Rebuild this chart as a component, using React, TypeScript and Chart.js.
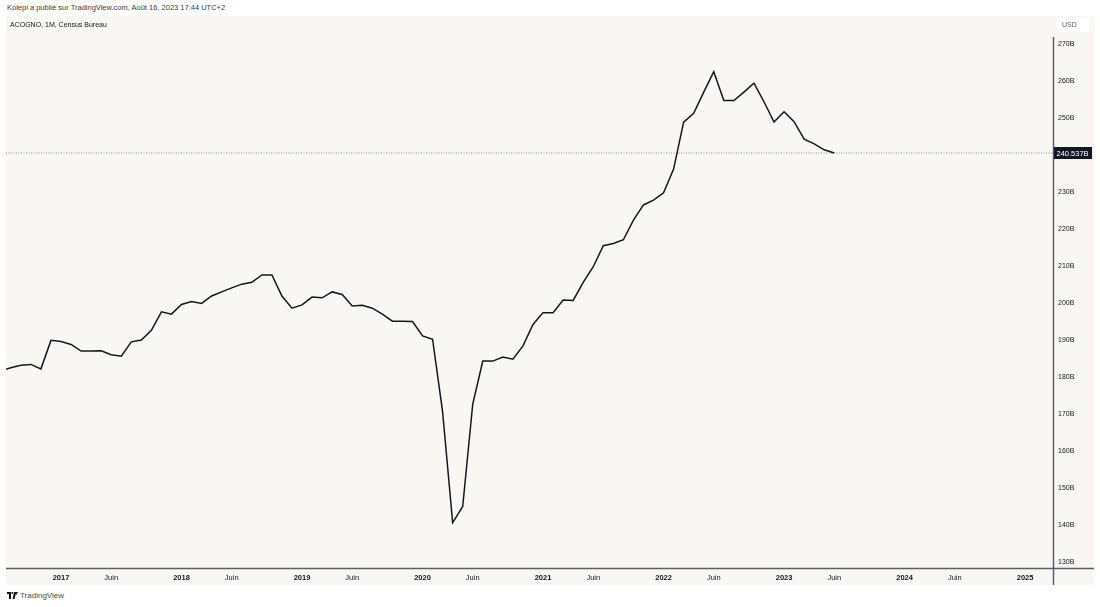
import React, { useEffect, useRef } from 'react';
import { Chart, registerables } from 'chart.js';

Chart.register(...registerables);

// ---- data ----
const months = [
  '2016-07', '2016-08', '2016-09', '2016-10', '2016-11', '2016-12',
  '2017-01', '2017-02', '2017-03', '2017-04', '2017-05', '2017-06',
  '2017-07', '2017-08', '2017-09', '2017-10', '2017-11', '2017-12',
  '2018-01', '2018-02', '2018-03', '2018-04', '2018-05', '2018-06',
  '2018-07', '2018-08', '2018-09', '2018-10', '2018-11', '2018-12',
  '2019-01', '2019-02', '2019-03', '2019-04', '2019-05', '2019-06',
  '2019-07', '2019-08', '2019-09', '2019-10', '2019-11', '2019-12',
  '2020-01', '2020-02', '2020-03', '2020-04', '2020-05', '2020-06',
  '2020-07', '2020-08', '2020-09', '2020-10', '2020-11', '2020-12',
  '2021-01', '2021-02', '2021-03', '2021-04', '2021-05', '2021-06',
  '2021-07', '2021-08', '2021-09', '2021-10', '2021-11', '2021-12',
  '2022-01', '2022-02', '2022-03', '2022-04', '2022-05', '2022-06',
  '2022-07', '2022-08', '2022-09', '2022-10', '2022-11', '2022-12',
  '2023-01', '2023-02', '2023-03', '2023-04', '2023-05', '2023-06',
];

const values = [
  181.7, 182.5, 183.2, 183.4, 182.2, 189.9,
  189.6, 188.8, 187.0, 187.0, 187.1, 186.0,
  185.6, 189.5, 190.0, 192.6, 197.6, 197.0,
  199.6, 200.4, 199.9, 201.9, 203.0, 204.1,
  205.1, 205.6, 207.6, 207.6, 201.9, 198.6,
  199.5, 201.6, 201.4, 203.0, 202.3, 199.2,
  199.4, 198.6, 197.0, 195.1, 195.1, 195.0,
  191.1, 190.2, 170.6, 140.6, 145.0, 172.7,
  184.3, 184.3, 185.4, 184.8, 188.4, 194.2,
  197.4, 197.4, 200.8, 200.7, 205.6, 209.8,
  215.5, 216.1, 217.1, 222.4, 226.5, 227.8,
  229.8, 236.2, 248.9, 251.3, 257.0, 262.5,
  254.7, 254.7, 257.0, 259.4, 254.4, 248.9,
  251.7, 249.0, 244.3, 243.0, 241.4, 240.537,
];

const yTickValues = [130, 140, 150, 160, 170, 180, 190, 200, 210, 220, 230, 240, 250, 260, 270];

const xTickDates = [
  '2017-01', '2017-06', '2018-01', '2018-06', '2019-01', '2019-06',
  '2020-01', '2020-06', '2021-01', '2021-06', '2022-01', '2022-06',
  '2023-01', '2023-06', '2024-01', '2024-06', '2025-01',
];
const xTickLabels = [
  '2017', 'Juin', '2018', 'Juin', '2019', 'Juin',
  '2020', 'Juin', '2021', 'Juin', '2022', 'Juin',
  '2023', 'Juin', '2024', 'Juin', '2025',
];

const seriesTitle = 'ACOGNO, 1M, Census Bureau';
const currencyLabel = 'USD';
const headerText = 'Kolepi a publié sur TradingView.com, Août 16, 2023 17:44 UTC+2';
const footerText = 'TradingView';

// ---- helpers / view settings ----
const monthIndex = (s: string) => {
  const [y, m] = s.split('-').map(Number);
  return (y - 2017) * 12 + (m - 1);
};

const FONT = '"Liberation Sans", Arial, sans-serif';
const X_MIN = -5.477;
const X_MAX = 98.78;
const Y_MIN = 128.38;
const Y_MAX = 277.57;
const BG = '#f8f7f3';
const AXIS_COLOR = '#5d606b';

const zeroPadding = (s: any) => {
  s.paddingTop = 0;
  s.paddingBottom = 0;
  s.paddingLeft = 0;
  s.paddingRight = 0;
};

export default function App() {
  const canvasRef = useRef<HTMLCanvasElement | null>(null);

  useEffect(() => {
    const canvas = canvasRef.current;
    if (!canvas) return;
    const points = months.map((m, i) => ({ x: monthIndex(m), y: values[i] }));
    const last = values[values.length - 1];

    const decor = {
      id: 'decor',
      beforeDraw(chart: any) {
        const { ctx, width, height } = chart;
        ctx.save();
        ctx.fillStyle = BG;
        ctx.fillRect(0, 0, width, height);
        ctx.restore();
      },
      afterDraw(chart: any) {
        const { ctx, chartArea, width, height } = chart;
        const yScale = chart.scales.y;
        ctx.save();
        // axis lines
        ctx.strokeStyle = AXIS_COLOR;
        ctx.lineWidth = 1.5;
        ctx.beginPath();
        ctx.moveTo(0, chartArea.bottom + 0.5);
        ctx.lineTo(width, chartArea.bottom + 0.5);
        ctx.moveTo(chartArea.right + 0.5, 21);
        ctx.lineTo(chartArea.right + 0.5, height);
        ctx.stroke();

        // title
        ctx.fillStyle = '#131722';
        ctx.font = `7px ${FONT}`;
        ctx.textBaseline = 'middle';
        ctx.textAlign = 'left';
        ctx.fillText(seriesTitle, 4, 9.5);

        // USD box
        ctx.fillStyle = '#ffffff';
        const bx = chartArea.right + 4, by = 2, bw = 33, bh = 14, r = 2;
        ctx.beginPath();
        ctx.moveTo(bx + r, by);
        ctx.lineTo(bx + bw - r, by);
        ctx.quadraticCurveTo(bx + bw, by, bx + bw, by + r);
        ctx.lineTo(bx + bw, by + bh - r);
        ctx.quadraticCurveTo(bx + bw, by + bh, bx + bw - r, by + bh);
        ctx.lineTo(bx + r, by + bh);
        ctx.quadraticCurveTo(bx, by + bh, bx, by + bh - r);
        ctx.lineTo(bx, by + r);
        ctx.quadraticCurveTo(bx, by, bx + r, by);
        ctx.fill();
        ctx.fillStyle = '#5d606b';
        ctx.font = `7px ${FONT}`;
        ctx.fillText(currencyLabel, bx + 5, by + bh / 2 + 0.5);

        // last value label
        const py = yScale.getPixelForValue(last);
        ctx.fillStyle = '#131722';
        ctx.fillRect(chartArea.right + 1, py - 6, 38, 12);
        ctx.fillStyle = '#ffffff';
        ctx.font = `7.5px ${FONT}`;
        ctx.fillText(`${last.toFixed(3)}B`, chartArea.right + 3.5, py + 0.5);
        ctx.restore();
      },
    };

    const chart = new Chart(canvas, {
      type: 'line',
      data: {
        datasets: [
          {
            data: points,
            borderColor: '#131722',
            borderWidth: 1.5,
            pointRadius: 0,
            tension: 0,
          },
          {
            data: [{ x: X_MIN, y: last }, { x: X_MAX, y: last }],
            borderColor: '#8a8a8a',
            borderWidth: 1,
            borderDash: [1, 1.5],
            pointRadius: 0,
          },
        ],
      },
      options: {
        animation: false,
        responsive: false,
        devicePixelRatio: 1,
        layout: { padding: 0 },
        plugins: { legend: { display: false }, tooltip: { enabled: false } },
        scales: {
          x: {
            type: 'linear',
            position: 'bottom',
            min: X_MIN,
            max: X_MAX,
            grid: { display: false, drawTicks: false },
            border: { display: false },
            afterBuildTicks: (s: any) => {
              s.ticks = xTickDates.map((d) => ({ value: monthIndex(d) }));
            },
            afterFit: (s: any) => {
              s.height = 17;
              zeroPadding(s);
            },
            ticks: {
              autoSkip: false,
              maxRotation: 0,
              minRotation: 0,
              padding: 5,
              color: '#131722',
              callback: (_v: any, i: number) => xTickLabels[i],
              font: (c: any) => ({
                family: FONT,
                size: 7.5,
                weight: /^\d/.test(xTickLabels[c.index] || '') ? 'bold' : 'normal',
              }),
            },
          },
          y: {
            type: 'linear',
            position: 'right',
            min: Y_MIN,
            max: Y_MAX,
            grid: { display: false, drawTicks: false },
            border: { display: false },
            afterBuildTicks: (s: any) => {
              s.ticks = yTickValues.map((v) => ({ value: v }));
            },
            afterFit: (s: any) => {
              s.width = 41;
              zeroPadding(s);
            },
            ticks: {
              padding: 5,
              color: '#131722',
              font: { family: FONT, size: 7 },
              callback: (v: any) => `${v}B`,
            },
          },
        },
      },
      plugins: [decor],
    } as any);

    return () => chart.destroy();
  }, []);

  return (
    <div
      style={{
        position: 'fixed',
        left: 0,
        top: 0,
        width: 1100,
        height: 607,
        background: '#ffffff',
        fontFamily: FONT,
        overflow: 'hidden',
      }}
    >
      <div style={{ position: 'absolute', left: 7, top: 3, fontSize: 7.5, color: '#3c3c3c', whiteSpace: 'nowrap' }}>
        {headerText}
      </div>
      <canvas
        ref={canvasRef}
        width={1088}
        height={569}
        style={{ position: 'absolute', left: 6, top: 16, width: 1088, height: 569 }}
      />
      <div style={{ position: 'absolute', left: 7, top: 591, display: 'flex', alignItems: 'center', gap: 2 }}>
        <svg width="11" height="7" viewBox="0 0 11 7">
          <rect x="0" y="0" width="4" height="2" fill="#131722" />
          <rect x="2" y="0" width="2" height="7" fill="#131722" />
          <circle cx="5.3" cy="1" r="1" fill="#131722" />
          <polygon points="7,0 9.2,0 7.6,7 5.6,7" fill="#131722" />
          <polygon points="9,0 11,0 8.6,4" fill="#131722" />
        </svg>
        <span style={{ fontSize: 8, color: '#4a4a4a' }}>{footerText}</span>
      </div>
    </div>
  );
}
